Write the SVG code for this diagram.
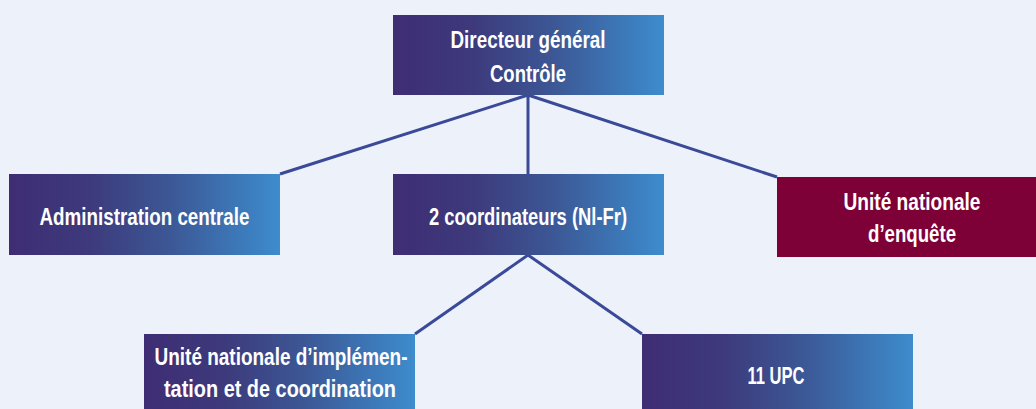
<svg xmlns="http://www.w3.org/2000/svg" width="1036" height="409" viewBox="0 0 1036 409">
<style>
.t{font-family:"Liberation Sans",Arial,sans-serif;font-weight:bold;font-size:23px;fill:#ffffff;text-anchor:middle}
.c{stroke:#3a4a98;stroke-width:3;fill:none}
</style>
<defs>
<linearGradient id="g" x1="0" y1="0" x2="1" y2="0">
<stop offset="0" stop-color="#3f2d74"/>
<stop offset="0.3" stop-color="#3d3a7c"/>
<stop offset="0.6" stop-color="#3c5896"/>
<stop offset="1" stop-color="#3d8ccd"/>
</linearGradient>
</defs>
<rect width="1036" height="409" fill="#edf1f9"/>
<g id="connectors">
<line class="c" x1="528" y1="95" x2="280" y2="174"/>
<line class="c" x1="528" y1="95" x2="528" y2="174"/>
<line class="c" x1="528" y1="95" x2="777" y2="177"/>
<line class="c" x1="528" y1="255" x2="415" y2="334"/>
<line class="c" x1="528" y1="255" x2="642" y2="334"/>
</g>
<g id="directeur">
<rect x="393" y="15" width="271" height="80" fill="url(#g)"/>
<text class="t" x="528" y="48" textLength="155" lengthAdjust="spacingAndGlyphs">Directeur général</text>
<text class="t" x="528" y="82" textLength="76" lengthAdjust="spacingAndGlyphs">Contrôle</text>
</g>
<g id="administration">
<rect x="9" y="174" width="271" height="81" fill="url(#g)"/>
<text class="t" x="144.5" y="225" textLength="210" lengthAdjust="spacingAndGlyphs">Administration centrale</text>
</g>
<g id="coordinateurs">
<rect x="393" y="174" width="271" height="81" fill="url(#g)"/>
<text class="t" x="528" y="225" textLength="198" lengthAdjust="spacingAndGlyphs">2 coordinateurs (Nl-Fr)</text>
</g>
<g id="enquete">
<rect x="777" y="177" width="271" height="80" fill="#7d0036"/>
<text class="t" x="912" y="210" textLength="137" lengthAdjust="spacingAndGlyphs">Unité nationale</text>
<text class="t" x="912" y="242" textLength="88" lengthAdjust="spacingAndGlyphs">d’enquête</text>
</g>
<g id="implementation">
<rect x="144" y="334" width="271" height="80" fill="url(#g)"/>
<text class="t" x="281" y="365" textLength="253" lengthAdjust="spacingAndGlyphs">Unité nationale d’implémen-</text>
<text class="t" x="280" y="397" textLength="232" lengthAdjust="spacingAndGlyphs">tation et de coordination</text>
</g>
<g id="upc">
<rect x="642" y="334" width="271" height="80" fill="url(#g)"/>
<text class="t" x="776" y="384" textLength="57" lengthAdjust="spacingAndGlyphs">11 UPC</text>
</g>
</svg>
